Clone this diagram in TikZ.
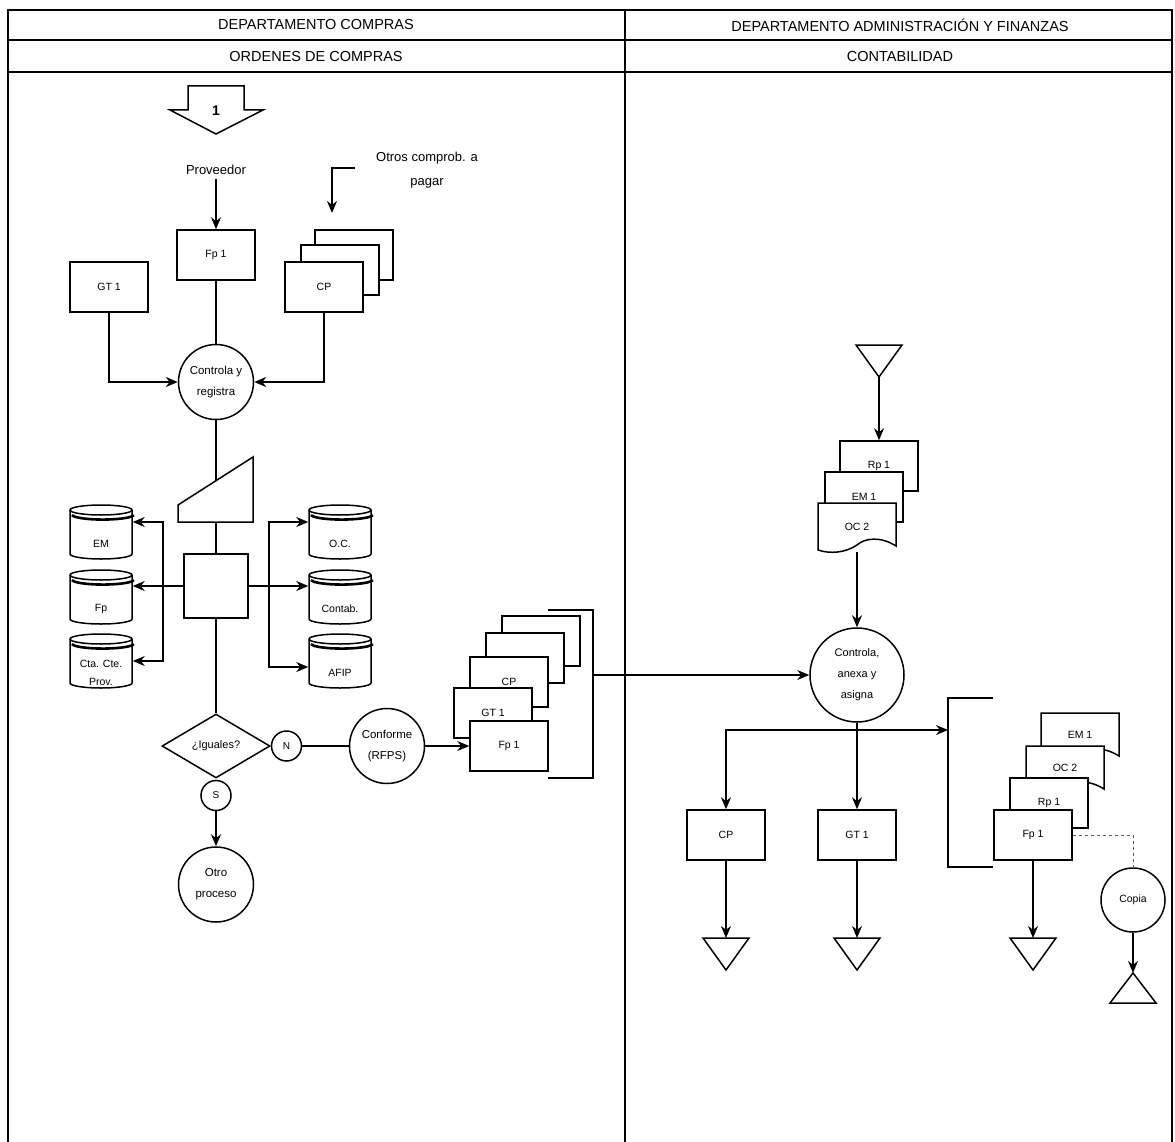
\documentclass[tikz,border=0pt]{standalone}
\usepackage{fontspec}
\setmainfont{Liberation Sans}
\usetikzlibrary{arrows.meta,positioning,shapes.geometric}

\newcommand{\wavydoc}[4]{%
  \draw[fill=white] (#1,#2) -- (#3,#2) -- (#3,#4-6)
    .. controls ({#1+0.8*(#3-#1)},#4-16) and ({#1+0.6*(#3-#1)},#4-14) .. ({#1+0.5*(#3-#1)},#4-7)
    .. controls ({#1+0.35*(#3-#1)},#4+1) and ({#1+0.15*(#3-#1)},#4+2) .. (#1,#4-2) -- cycle;}

\tikzset{
  hdr/.style={font=\fontsize{14.5}{16}\selectfont},
  lbl/.style={align=center, font=\fontsize{13}{24}\selectfont},
  doc/.style={draw, fill=white, minimum width=78, minimum height=50, inner sep=0,
    font=\fontsize{10.5}{12}\selectfont},
  docin/.style={minimum width=78, minimum height=49, inner sep=0,
    font=\fontsize{10.5}{12}\selectfont},
  proc/.style={circle, draw, fill=white, minimum size=75, inner sep=0, align=center,
    font=\fontsize{11.5}{21}\selectfont},
  conn/.style={circle, draw, fill=white, minimum size=30, inner sep=0,
    font=\fontsize{10}{12}\selectfont},
  decis/.style={diamond, draw, fill=white, aspect=1.7, minimum width=108,
    minimum height=64, inner sep=0, font=\fontsize{11}{12}\selectfont},
  dbnode/.style={minimum width=62, minimum height=54, inner sep=0},
  dbtext/.style={align=center, inner sep=0, font=\fontsize{10.5}{18}\selectfont},
}

\begin{document}
\begin{tikzpicture}[x=1pt, y=-1pt, line width=1.5pt, >={Stealth[length=12pt,width=10pt]}]
  \useasboundingbox (0,0) rectangle (1175,1142);

  % lanes
  \draw (8,1142) -- (8,10) -- (1172,10) -- (1172,1142);
  \draw (8,40) -- (1172,40);
  \draw (8,72) -- (1172,72);
  \draw (625,10) -- (625,1142);
  \node[hdr] (h1) at (316,25) {DEPARTAMENTO COMPRAS};
  \node[hdr] (h2) at (900,25) {DEPARTAMENTO ADMINISTRACIÓN Y FINANZAS};
  \node[hdr] (h3) at (316,57) {ORDENES DE COMPRAS};
  \node[hdr] (h4) at (900,57) {CONTABILIDAD};

  % ordenes de compras
  \draw[fill=white] (188,86) -- (244,86) -- (244,110) -- (263,110) -- (216,134)
    -- (170,110) -- (188,110) -- cycle;
  \node[font=\bfseries\fontsize{14}{14}\selectfont] (pag1) at (216,111) {1};
  \node[lbl] (prov) at (216,170) {Proveedor};
  \node[doc] (fp1) at (216,255) {Fp 1};
  \node[lbl] (otros) at (427,170) {Otros comprob. a\\pagar};
  \coordinate (otw) at (355,168);
  \coordinate (cpin) at (332,213);
  \node[doc] (cpk3) at (354,255) {};
  \node[doc] (cpk2) at (340,270) {};
  \node[doc] (cpk1) at (324,287) {CP};
  \node[doc] (gt1) at (109,287) {GT 1};
  \node[proc] (ctrl) at (216,382) {Controla y\\registra};
  \draw[->] (prov) -- (fp1);
  \draw[->] (otw) -| (cpin);
  \draw (fp1) -- (ctrl);
  \draw[->] (gt1.south) |- (ctrl);
  \draw[->] (cpk1.south) |- (ctrl);

  \draw[fill=white] (178,505) -- (253,457) -- (253,522) -- (178,522) -- cycle;
  \coordinate (mitop) at (216,481);
  \coordinate (mibot) at (216,522);
  \node[draw, fill=white, minimum size=64, inner sep=0] (proc) at (216,586) {};
  \draw (ctrl) -- (mitop);
  \draw (mibot) -- (proc);

  \foreach \nm/\cx/\cy/\txt in {dbem/101/532/EM, dbfp/101/597/Fp,
      dbcta/101/661/{Cta. Cte.\\Prov.}, dboc/340/532/O.C.,
      dbcon/340/597/Contab., dbafip/340/661/AFIP} {
    \draw[fill=white] (\cx-31,\cy-22) -- (\cx-31,\cy+22)
      arc[start angle=180, end angle=360, x radius=31pt, y radius=5pt]
      -- (\cx+31,\cy-22)
      arc[start angle=0, end angle=180, x radius=31pt, y radius=5pt] -- cycle;
    \draw (\cx-31,\cy-22) arc[start angle=180, end angle=360, x radius=31pt, y radius=5pt];
    \draw[line width=2.6pt] (\cx-29,\cy-17) arc[start angle=185, end angle=355, x radius=31pt, y radius=5pt];
    \node[dbnode] (\nm) at (\cx,\cy) {};
    \node[dbtext] (\nm-t) at (\cx,\cy+12) {\txt};
  }
  \coordinate (lj) at (163,586);
  \coordinate (rj) at (269,586);
  \draw[->] (proc.west) -- ([yshift=11pt]dbfp.east);
  \draw[->] (lj) |- ([yshift=10pt]dbem.east);
  \draw[->] (lj) |- (dbcta.east);
  \draw[->] (proc.east) -- ([yshift=11pt]dbcon.west);
  \draw[->] (rj) |- ([yshift=10pt]dboc.west);
  \draw[->] (rj) |- ([yshift=-6pt]dbafip.west);

  \node[decis] (dec) at (216,746) {¿Iguales?};
  \draw (proc) -- (dec);
  \node[conn, right=0pt of dec] (cn) {N};
  \node[conn, below=1pt of dec] (cs) {S};
  \node[proc, below=35pt of cs] (otro) {Otro\\proceso};
  \node[proc] (conf) at (387,746) {Conforme\\(RFPS)};
  \draw[->] (cs) -- (otro);
  \draw (cn) -- (conf);

  \node[doc] (cpm3) at (541,641) {};
  \node[doc] (cpm2) at (525,658) {};
  \node[doc] (cpm1) at (509,682) {CP};
  \node[doc] (gtm) at (493,713) {GT 1};
  \node[doc] (fpm) at (509,746) {Fp 1};
  \draw[->] (conf) -- (fpm);
  \coordinate (brk1) at (593,675);
  \draw (548,610) -- (593,610) -- (593,778) -- (548,778);

  % contabilidad
  \draw[fill=white] (856,345) -- (902,345) -- (879,377) -- cycle;
  \coordinate (tri0) at (879,377);
  \node[doc] (rpa) at (879,466) {Rp 1};
  \node[doc] (ema) at (864,497) {EM 1};
  \wavydoc{818}{503}{896}{552}
  \node[docin] (oca) at (857,527) {OC 2};
  \node[proc, minimum size=94, font=\fontsize{11}{21}\selectfont] (ctr) at (857,675)
    {Controla,\\anexa y\\asigna};
  \draw[->] (tri0) -- (rpa);
  \draw[->] (oca.south) -- (ctr);
  \draw[->] (brk1) -- (ctr);

  \node[doc] (cpb) at (726,835) {CP};
  \node[doc] (gtb) at (857,835) {GT 1};
  \coordinate (hj) at (857,730);
  \coordinate (brk2) at (948,730);
  \draw[->] (ctr) -- (gtb);
  \draw[->] (hj) -| (cpb);
  \draw[->] (hj) -- (brk2);
  \draw (993,698) -- (948,698) -- (948,867) -- (993,867);

  \wavydoc{1041}{713}{1119}{762}
  \node[docin] (emb) at (1080,735) {EM 1};
  \wavydoc{1026}{746}{1104}{795}
  \node[docin] (ocb) at (1065,768) {OC 2};
  \node[doc] (rpb) at (1049,803) {Rp 1};
  \node[doc] (fpb) at (1033,835) {Fp 1};
  \node[proc, minimum size=64, font=\fontsize{10.5}{12}\selectfont] (copia) at (1133,900) {Copia};
  \draw[dashed, line width=1pt, gray!70!black] (fpb.east) -| (copia);

  \foreach \nm/\tx in {tcp/726, tgt/857, tfp/1033} {
    \draw[fill=white] (\tx-23,938) -- (\tx+23,938) -- (\tx,970) -- cycle;
    \coordinate (\nm) at (\tx,938);
  }
  \draw[->] (cpb) -- (tcp);
  \draw[->] (gtb) -- (tgt);
  \draw[->] (fpb) -- (tfp);
  \draw[fill=white] (1110,1003) -- (1156,1003) -- (1133,973) -- cycle;
  \coordinate (tup) at (1133,973);
  \draw[->] (copia) -- (tup);
\end{tikzpicture}
\end{document}
